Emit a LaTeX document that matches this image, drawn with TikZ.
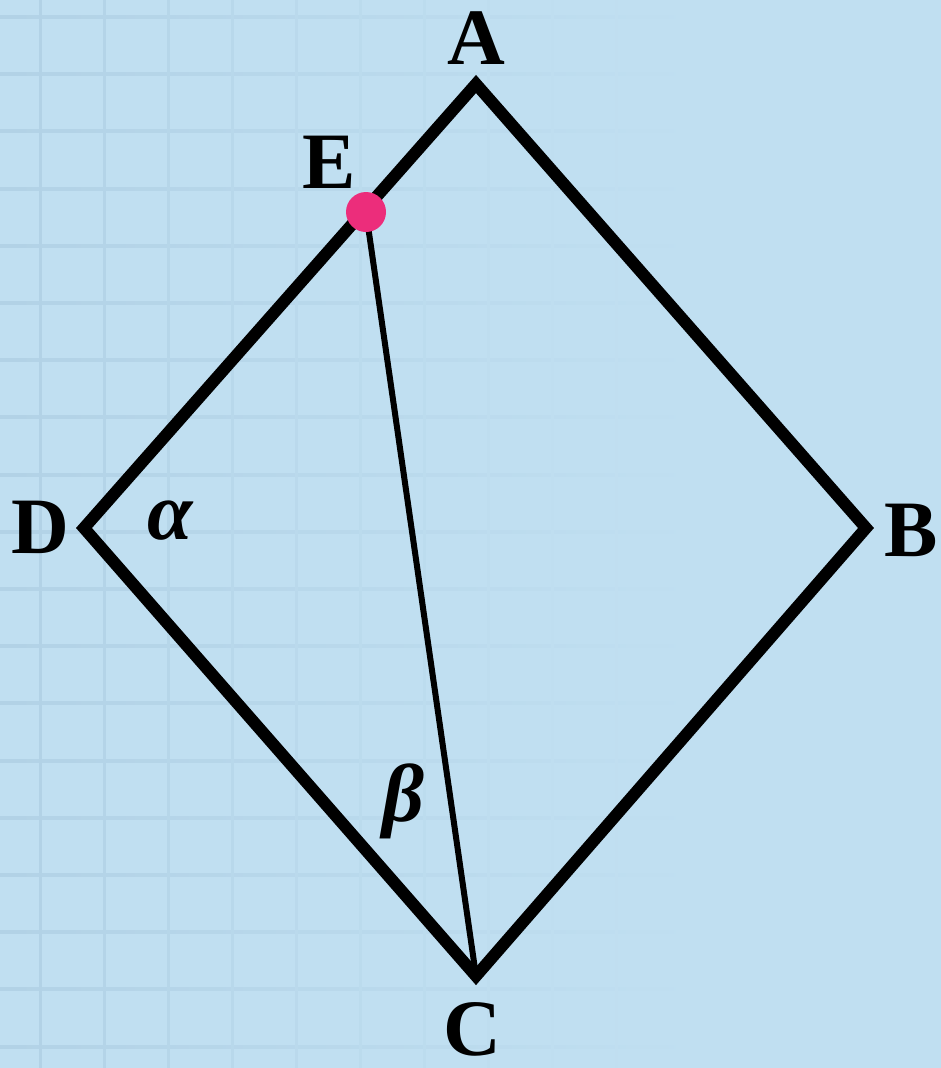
\documentclass[tikz,border=0pt]{standalone}
\usepackage{fontspec}
\setmainfont{Liberation Serif}
\definecolor{bg}{HTML}{C0DFF1}
\definecolor{gridc}{HTML}{B2D2E6}
\definecolor{dotc}{HTML}{EC2D7B}
\begin{document}
\begin{tikzpicture}[x=1pt,y=-1pt,
  lbl/.style={font=\bfseries\fontsize{80}{80}\selectfont, inner sep=0pt},
  ang/.style={font=\bfseries\itshape\fontsize{82}{82}\selectfont, inner sep=0pt},
  side/.style={line width=12pt, line join=miter, miter limit=10},
  seg/.style={line width=6pt}]
\fill[bg] (0,0) rectangle (941,1068);
\useasboundingbox (0,0) rectangle (941,1068);
% faint grid, fading to the right
\foreach \k in {0,...,18} {
  \shade[left color=gridc, right color=bg] (0,{17+57.2*\k-1.5}) rectangle (700,{17+57.2*\k+1.5});
}
\foreach \k/\p in {0/100,1/85,2/70,3/55,4/45,5/35,6/25,7/15,8/8,9/4} {
  \fill[gridc!\p!bg] ({40+64*\k-1.5},0) rectangle ({40+64*\k+1.5},1068);
}
% figure
\coordinate (A) at (476,84);
\coordinate (B) at (866,528);
\coordinate (C) at (476,976);
\coordinate (D) at (84,528);
\coordinate (E) at (366,212);
\draw[side] (A) -- (B) -- (C) -- (D) -- cycle;
\draw[seg] (E) -- (C);
\fill[dotc] (E) circle (20pt);
% labels
\node[lbl] (lA) at (476,38) {A};
\node[lbl] (lB) at (911,530) {B};
\node[lbl] (lC) at (472,1029) {C};
\node[lbl] (lD) at (40,527) {D};
\node[lbl] (lE) at (329,162) {E};
\node[ang] (la) at (170,521) {α};
\node[ang] (lb) at (403,801) {β};
\end{tikzpicture}
\end{document}
